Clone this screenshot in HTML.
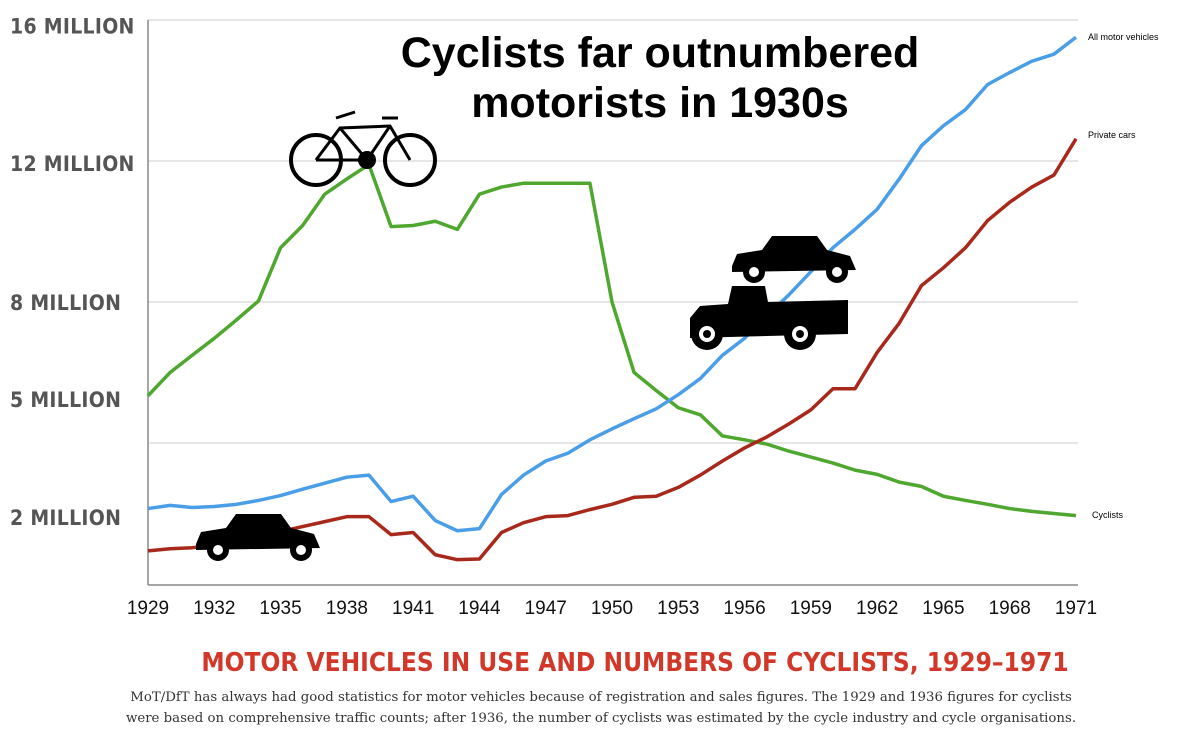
<!DOCTYPE html>
<html><head><meta charset="utf-8"><style>
body{margin:0;background:#fff;width:1200px;height:743px;overflow:hidden;font-family:"Liberation Sans",sans-serif}
svg{position:absolute;left:0;top:0}
</style></head><body>
<svg width="1200" height="743">
<g id="grid"></g>
<g id="ylabels" font-family="'DejaVu Sans Condensed','Liberation Sans Narrow',sans-serif" font-weight="bold" font-size="21" fill="#555" letter-spacing="0.3"></g>
<line x1="148" y1="20" x2="148" y2="585" stroke="#888" stroke-width="1.5"/>
<line x1="148" y1="585" x2="1078" y2="585" stroke="#888" stroke-width="1.5"/>
<g id="xlabels" font-size="19" fill="#111" text-anchor="middle"></g>
<g id="lines"></g>
<text x="660" y="67" font-size="43" font-weight="bold" text-anchor="middle">Cyclists far outnumbered</text>
<text x="660" y="117" font-size="43" font-weight="bold" text-anchor="middle">motorists in 1930s</text>
<text x="1088" y="40" font-size="9">All motor vehicles</text>
<text x="1088" y="138" font-size="9">Private cars</text>
<text x="1092" y="518" font-size="9">Cyclists</text>
<g stroke="#000" fill="none" stroke-width="4">
<circle cx="316" cy="160" r="25"/><circle cx="410" cy="160" r="25"/>
<path d="M316 160 L340 128 L390 126 L410 160 M340 128 L367 160 L390 126 M367 160 L316 160" stroke-width="3"/>
<path d="M336 118 L355 112 M382 118 L398 118" stroke-width="3"/>
<circle cx="367" cy="160" r="7" fill="#000"/>
</g>
<g id="cars" fill="#000"></g>
<text x="635" y="671" font-family="'DejaVu Sans Condensed',sans-serif" font-weight="bold" font-size="26" fill="#d2382a" text-anchor="middle">MOTOR VEHICLES IN USE AND NUMBERS OF CYCLISTS, 1929–1971</text>
<text x="601" y="701" font-family="'DejaVu Serif','Liberation Serif',serif" font-size="13.3" fill="#333" text-anchor="middle">MoT/DfT has always had good statistics for motor vehicles because of registration and sales figures. The 1929 and 1936 figures for cyclists</text>
<text x="601" y="722" font-family="'DejaVu Serif','Liberation Serif',serif" font-size="13.3" fill="#333" text-anchor="middle">were based on comprehensive traffic counts; after 1936, the number of cyclists was estimated by the cycle industry and cycle organisations.</text>
</svg>
<script>
const years=[];for(let y=1929;y<=1971;y++)years.push(y);
const cyclists=[5.34,6.0,6.49,6.97,7.49,8.03,9.54,10.17,11.06,11.49,11.9,10.14,10.17,10.29,10.06,11.06,11.26,11.37,11.37,11.37,11.37,8.0,6.0,5.49,5.0,4.8,4.2,4.09,3.97,3.77,3.6,3.43,3.23,3.11,2.89,2.77,2.49,2.37,2.26,2.14,2.06,2.0,1.94];
const allMotor=[2.14,2.23,2.17,2.2,2.26,2.37,2.51,2.69,2.86,3.03,3.09,2.34,2.49,1.8,1.51,1.57,2.54,3.09,3.49,3.71,4.09,4.4,4.69,4.97,5.37,5.83,6.49,6.97,7.6,8.2,8.86,9.54,10.06,10.63,11.49,12.43,13.0,13.46,14.17,14.51,14.83,15.03,15.51];
const privateCars=[0.94,1.0,1.03,1.11,1.2,1.34,1.49,1.63,1.77,1.91,1.91,1.4,1.46,0.83,0.69,0.71,1.46,1.74,1.91,1.94,2.11,2.26,2.46,2.49,2.74,3.09,3.49,3.86,4.17,4.54,4.94,5.54,5.54,6.57,7.4,8.46,8.97,9.54,10.31,10.83,11.26,11.6,12.63];
const xTicks=[1929,1932,1935,1938,1941,1944,1947,1950,1953,1956,1959,1962,1965,1968,1971];
const yTickLabels=["16 MILLION","12 MILLION","8 MILLION","5 MILLION","2 MILLION"];
const yLabelPos=[15.85,11.95,8.0,5.25,1.9];
const gridVals=[16,12,8,4];
const NS="http://www.w3.org/2000/svg";
const X=y=>148+(y-1929)*(928/42);
const Y=v=>584-v*35.25;
function mk(t,a,p){const e=document.createElementNS(NS,t);for(const k in a)e.setAttribute(k,a[k]);p.appendChild(e);return e;}
const grid=document.getElementById('grid');
gridVals.forEach(v=>{const l=mk('line',{x1:148,x2:1078,y1:Y(v),y2:Y(v),stroke:'#ddd','stroke-width':1.5},grid);

});
const yl=document.getElementById('ylabels');
yTickLabels.forEach((t,i)=>{const e=mk('text',{x:10,y:Y(yLabelPos[i])+8},yl);e.textContent=t;

});
const xl=document.getElementById('xlabels');
xTicks.forEach(t=>{const e=mk('text',{x:X(t),y:614},xl);e.textContent=t;

});
const lines=document.getElementById('lines');
[[cyclists,'#4fa72f','cyclists-line'],[allMotor,'#4a9ee8','all-motor-vehicles-line'],[privateCars,'#a8291c','private-cars-line']].forEach(([d,c,n])=>{
const p=mk('polyline',{points:d.map((v,i)=>X(years[i])+','+Y(v)).join(' '),fill:'none',stroke:c,'stroke-width':3.5,'stroke-linejoin':'round'},lines);

});
const cars=document.getElementById('cars');
function car(x,y,s,name){const g=mk('g',{transform:`translate(${x},${y}) scale(${s})`},cars);


mk('path',{d:'M0 30 L5 18 L30 14 L40 0 L85 0 L95 14 L118 20 L124 34 L0 36 Z'},g);
[[22,36],[105,36]].forEach(([cx,cy])=>{mk('circle',{cx,cy,r:11},g);mk('circle',{cx,cy,r:5,fill:'#fff'},g);});}
car(196,514,1,'car-icon-bottom');car(732,236,1,'car-icon-top');
const tg=mk('g',{},cars);


mk('path',{d:'M690 318 L700 306 L728 304 L732 286 L765 286 L768 302 L848 300 L848 334 L690 338 Z'},tg);
[[707,334],[800,334]].forEach(([cx,cy])=>{mk('circle',{cx,cy,r:16},tg);mk('circle',{cx,cy,r:8,fill:'#fff'},tg);mk('circle',{cx,cy,r:4},tg);});
</script>
</body></html>
